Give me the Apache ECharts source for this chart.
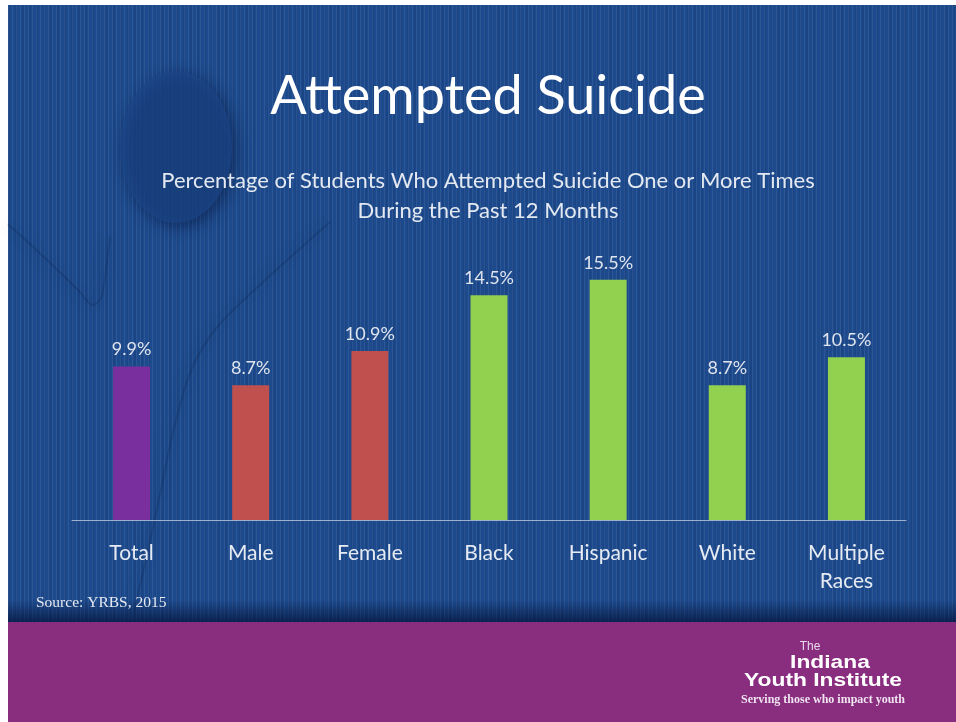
<!DOCTYPE html>
<html>
<head>
<meta charset="utf-8">
<script src="https://cdn.jsdelivr.net/npm/echarts@6/dist/echarts.min.js"></script>
<style>
  html, body { margin: 0; padding: 0; background: #fff; }
  #slide {
    position: absolute; left: 8px; top: 5px; width: 948px; height: 717px; overflow: hidden;
    background-color: #1c4a8c;
    background-image:
      repeating-linear-gradient(90deg, rgba(255,255,255,0.07) 0 1px, transparent 1px 4px),
      repeating-linear-gradient(90deg, rgba(0,0,40,0.08) 0 2px, transparent 2px 7px);
  }
  #shade {
    position: absolute; left: 0; top: 595px; width: 948px; height: 22px;
    background: linear-gradient(180deg, rgba(5,20,60,0) 0%, rgba(5,20,60,0.75) 100%);
  }
  #band { position: absolute; left: 0; top: 617px; width: 948px; height: 100px; background: #892d7f; }
  #chart { position: absolute; left: 0; top: 0; width: 956px; height: 722px; }
</style>
</head>
<body>
<div id="slide"><div id="shade"></div><div id="band"></div></div>
<div id="chart"></div>
<script>
document.addEventListener('DOMContentLoaded', function () {
  const categories = ['Total', 'Male', 'Female', 'Black', 'Hispanic', 'White', 'Multiple\nRaces'];
  const values = [9.9, 8.7, 10.9, 14.5, 15.5, 8.7, 10.5];
  const barColors = ['#7a2f9e', '#c0504d', '#c0504d', '#92d050', '#92d050', '#92d050', '#92d050'];

  const titleText = 'Attempted Suicide';
  const subtitleText = 'Percentage of Students Who Attempted Suicide One or More Times\nDuring the Past 12 Months';
  const sourceText = 'Source: YRBS, 2015';

  const chart = echarts.init(document.getElementById('chart'));

  // 背景人物图形（装饰，只画边缘阴影）
  const edgeStyle = { fill: null, stroke: 'rgba(5,20,55,0.18)', lineWidth: 2, shadowBlur: 12, shadowColor: 'rgba(0,10,40,0.7)', shadowOffsetX: -3 };
  const decor = [
    {
      type: 'ellipse', silent: true, z: 0,
      shape: { cx: 176, cy: 147, rx: 56, ry: 76 },
      style: { fill: 'rgba(27,70,135,0.7)', shadowBlur: 14, shadowColor: 'rgba(0,10,40,0.6)', shadowOffsetX: 4, shadowOffsetY: 4 }
    },
    {
      type: 'polyline', silent: true, z: 0,
      shape: { points: [[8, 224], [45, 258], [78, 290], [92, 305], [101, 298], [106, 270], [110, 236]], smooth: 0.3 },
      style: edgeStyle
    },
    {
      type: 'polyline', silent: true, z: 0,
      shape: { points: [[330, 222], [262, 283], [218, 326], [192, 368], [174, 428], [161, 490], [147, 555], [134, 612]], smooth: 0.3 },
      style: edgeStyle
    }
  ];

  const logoShadow = { shadowBlur: 3, shadowColor: 'rgba(0,0,0,0.6)', shadowOffsetX: 1, shadowOffsetY: 1, textAlign: 'center', textVerticalAlign: 'middle' };

  const option = {
    backgroundColor: 'transparent',
    animation: false,
    grid: { left: 72, right: 50, top: 210, bottom: 202 },
    xAxis: {
      type: 'category',
      data: categories,
      axisLine: { lineStyle: { color: '#9fb0cf', width: 1 } },
      axisTick: { show: false },
      axisLabel: { color: '#e6ebf3', fontFamily: 'Lato', fontSize: 21, lineHeight: 28, margin: 19 }
    },
    yAxis: { type: 'value', min: 0, max: 20, show: false, splitLine: { show: false } },
    series: [{
      type: 'bar',
      barWidth: 37,
      data: values.map((v, i) => ({ value: v, itemStyle: { color: barColors[i] } })),
      label: {
        show: true, position: 'top', distance: 8,
        color: '#dfe4ee', fontFamily: 'Lato', fontSize: 18,
        formatter: p => p.value.toFixed(1) + '%'
      }
    }],
    graphic: decor.concat([
      {
        type: 'text', x: 488, y: 97, z: 10,
        style: { text: titleText, fill: '#ffffff', font: '54px Lato', textAlign: 'center', textVerticalAlign: 'middle' }
      },
      {
        type: 'text', x: 488, y: 196, z: 10,
        style: { text: subtitleText, fill: '#e3e8f1', font: '22px Lato', lineHeight: 30, textAlign: 'center', textVerticalAlign: 'middle' }
      },
      {
        type: 'text', x: 36, y: 603, z: 10,
        style: { text: sourceText, fill: '#e8ebf2', font: '15.5px "Liberation Serif"', textVerticalAlign: 'middle' }
      },
      { type: 'text', x: 810, y: 647, z: 10, style: Object.assign({ text: 'The', fill: '#e9d8ea', font: '12px "Liberation Sans"' }, logoShadow) },
      { type: 'text', x: 830, y: 663, z: 10, scaleX: 1.2, style: Object.assign({ text: 'Indiana', fill: '#ffffff', font: 'bold 19px "Liberation Sans"' }, logoShadow) },
      { type: 'text', x: 823, y: 681, z: 10, scaleX: 1.2, style: Object.assign({ text: 'Youth Institute', fill: '#ffffff', font: 'bold 19px "Liberation Sans"' }, logoShadow) },
      { type: 'text', x: 823, y: 700, z: 10, style: Object.assign({ text: 'Serving those who impact youth', fill: '#f0e4f0', font: 'bold 12px "Liberation Serif"' }, logoShadow) }
    ])
  };

  chart.setOption(option);
  window.addEventListener('resize', () => chart.resize());
});
</script>
</body>
</html>
